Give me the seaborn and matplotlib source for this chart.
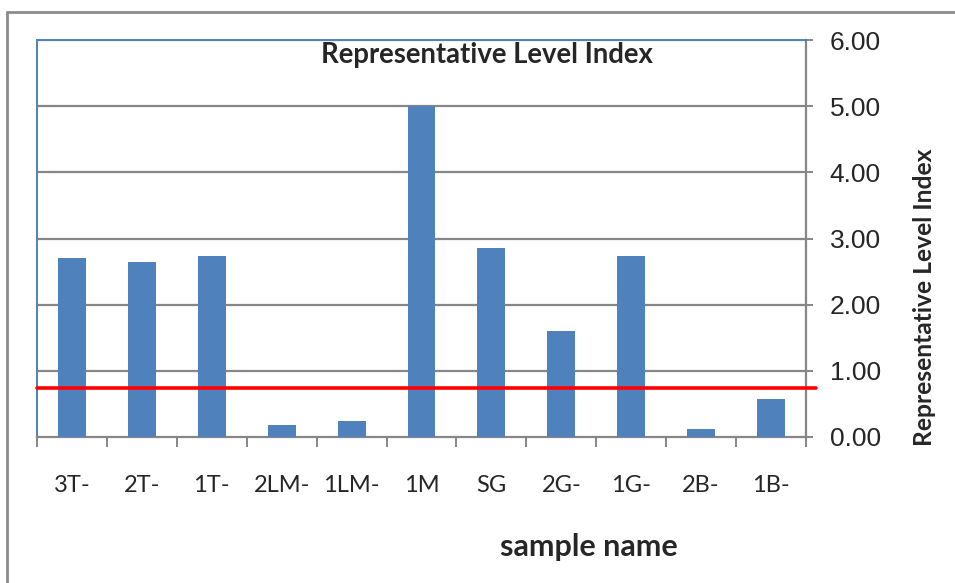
import matplotlib
matplotlib.use("Agg")
import matplotlib.pyplot as plt
import matplotlib.patches as mpatches
from matplotlib.ticker import FormatStrFormatter, FixedLocator
import seaborn as sns
import pandas as pd

samples = ["3T-", "2T-", "1T-", "2LM-", "1LM-", "1M", "SG", "2G-", "1G-", "2B-", "1B-"]
level_index = [2.71, 2.65, 2.74, 0.18, 0.24, 5.00, 2.86, 1.60, 2.74, 0.12, 0.58]
threshold = 0.74
y_ticks = [0, 1, 2, 3, 4, 5, 6]

sns.set_theme(style="white")
plt.rcParams["font.family"] = ["Liberation Sans", "DejaVu Sans"]

W, H = 955, 583
fig = plt.figure(figsize=(W / 100, H / 100), dpi=100)
ax = fig.add_axes([37 / W, (H - 437) / H, (806 - 37) / W, (437 - 40) / H])

df = pd.DataFrame({"sample": samples, "index": level_index})
sns.barplot(data=df, x="sample", y="index", color="#4F81BD", width=0.4,
            saturation=1, linewidth=0, ax=ax, zorder=3)

ax.set_xlim(-0.5, len(samples) - 0.5)
ax.set_ylim(0, 6)

# gridlines
for v in y_ticks[1:]:
    ax.axhline(v, color="#868686", lw=1.6, zorder=1)

# threshold line
ax.axhline(threshold, xmin=0, xmax=1.013, color="#FF0000", lw=2.6,
           zorder=4, clip_on=False)

# right-hand value axis
ax.yaxis.tick_right()
ax.yaxis.set_major_locator(FixedLocator(y_ticks))
ax.yaxis.set_major_formatter(FormatStrFormatter("%.2f"))
ax.tick_params(axis="y", which="major", direction="out", length=5, width=1.4,
               color="#868686", labelsize=19, pad=12, right=True, left=False)

# category ticks between bars
ax.set_xticks(range(len(samples)))
ax.set_xticklabels(samples, family=["Lato", "DejaVu Sans"], fontsize=17)
ax.tick_params(axis="x", which="major", length=0, pad=27)
ax.set_xticks([i - 0.5 for i in range(len(samples) + 1)], minor=True)
ax.tick_params(axis="x", which="minor", direction="out", length=7, width=1.4,
               color="#868686", bottom=True)

for side in ["top", "left"]:
    ax.spines[side].set_color("#4F81BD")
    ax.spines[side].set_linewidth(1.4)
for side in ["right", "bottom"]:
    ax.spines[side].set_color("#868686")
    ax.spines[side].set_linewidth(1.6)

ax.set_xlabel("")
ax.set_ylabel("")
bold = dict(family=["Lato", "DejaVu Sans"], fontweight="bold",
            ha="center", va="center")
fig.text(589 / W, 1 - 547 / H, "sample name", fontsize=22, **bold)
fig.text(924 / W, 1 - 297 / H, "Representative Level Index", fontsize=17.7,
         rotation=90, **bold)
fig.text(487 / W, 1 - 55 / H, "Representative Level Index", fontsize=19.8,
         zorder=5, **bold)

# outer chart frame
frame = mpatches.Rectangle((7 / W, -0.05), 1.0, (H - 12) / H + 0.05,
                           transform=fig.transFigure, fill=False,
                           edgecolor="#8C8C8C", lw=2, zorder=0)
fig.patches.append(frame)

fig.savefig("out.png", dpi=100)
